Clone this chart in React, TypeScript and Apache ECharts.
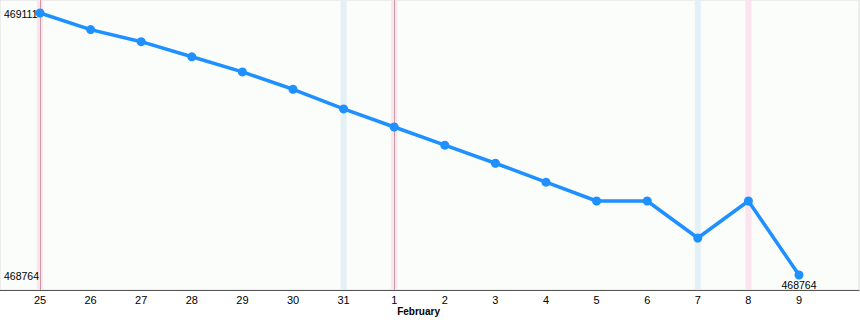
import React, { useEffect, useRef } from "react";
import * as echarts from "echarts";

const dayLabels = ["25", "26", "27", "28", "29", "30", "31", "1", "2", "3", "4", "5", "6", "7", "8", "9"];
const values = [469111, 469089, 469073, 469053, 469033, 469010, 468984, 468960, 468936, 468912, 468887, 468862, 468862, 468813, 468862, 468764];
const saturdays = ["31", "7"];
const sundays = ["25", "1", "8"];
const markerDays = ["25", "1"];
const monthLabel = "February";
const monthStartDay = "1";
const yLabelValues = [468764, 469111];

export default function App() {
  const ref = useRef<HTMLDivElement>(null);
  useEffect(() => {
    if (!ref.current) return;
    const chart = echarts.init(ref.current, null, { renderer: "svg" });
    const idx = (d: string) => dayLabels.indexOf(d);
    const data = values.map((v, i) => [i, v]);
    const minV = Math.min(...values);
    const maxV = Math.max(...values);
    const minIdx = values.indexOf(minV);
    const pxPerUnit = 50.6;
    const xMin = -40 / pxPerUnit;
    const xMax = dayLabels.length - 1 + 60 / pxPerUnit;
    const yPer = (maxV - minV) / 262;
    const yMax = maxV + 13 * yPer;
    const yMin = minV - 15 * yPer;
    const half = 3 / pxPerUnit;
    const font = "Liberation Sans, Arial, sans-serif";
    const band = (d: string, color: string) => [
      { xAxis: idx(d) - half, itemStyle: { color } },
      { xAxis: idx(d) + half },
    ];
    chart.setOption({
      animation: false,
      grid: {
        left: 0,
        right: 1,
        top: 0,
        bottom: 30,
        show: true,
        backgroundColor: "#fbfdfb",
        borderColor: "#dedede",
        borderWidth: 1,
      },
      xAxis: {
        type: "value",
        min: xMin,
        max: xMax,
        splitLine: { show: false },
        axisLine: { show: true, lineStyle: { color: "#555", width: 1 } },
        axisTick: { show: false },
        axisLabel: {
          customValues: dayLabels.map((_, i) => i),
          formatter: (v: number) => dayLabels[Math.round(v)] ?? "",
          color: "#000",
          fontFamily: font,
          fontSize: 11,
          margin: 4,
        },
      },
      yAxis: {
        type: "value",
        min: yMin,
        max: yMax,
        splitLine: { show: false },
        axisLine: { show: false },
        axisTick: { show: false },
        axisLabel: { show: false },
      },
      series: [
        {
          type: "line",
          data,
          z: 5,
          lineStyle: { color: "#1e90ff", width: 3.5 },
          itemStyle: { color: "#1e90ff" },
          symbol: "circle",
          symbolSize: 9,
          label: {
            show: true,
            position: "bottom",
            distance: 0,
            color: "#000",
            fontFamily: font,
            fontSize: 10.5,
            formatter: (p: any) => (p.dataIndex === minIdx ? String(values[minIdx]) : ""),
          },
          markArea: {
            silent: true,
            data: [
              ...saturdays.map((d) => band(d, "#e3f0f5")),
              ...sundays.map((d) => band(d, "#fce4ef")),
            ],
          },
          markLine: {
            silent: true,
            symbol: "none",
            label: { show: false },
            lineStyle: { color: "#c99aa8", width: 1, type: "solid" },
            data: markerDays.map((d) => ({ xAxis: idx(d) })),
          },
        },
      ],
    });
    const p = chart.convertToPixel({ xAxisIndex: 0, yAxisIndex: 0 }, [idx(monthStartDay), minV]);
    const yTexts = yLabelValues.map((v) => {
      const q = chart.convertToPixel({ xAxisIndex: 0, yAxisIndex: 0 }, [0, v]);
      return {
        type: "text",
        x: 4,
        y: q[1] + 1,
        z: 10,
        style: {
          text: String(v),
          fill: "#000",
          font: "10.5px " + font,
          textAlign: "left",
          textVerticalAlign: "middle",
          verticalAlign: "middle",
        },
      };
    });
    chart.setOption({
      graphic: [
        ...yTexts,
        {
          type: "text",
          x: p[0] + 3,
          y: 311,
          style: {
            text: monthLabel,
            fill: "#000",
            font: "bold 10px " + font,
            textVerticalAlign: "middle",
            verticalAlign: "middle",
          },
        },
      ],
    });
    return () => chart.dispose();
  }, []);
  return (
    <div
      ref={ref}
      style={{ width: 860, height: 320, position: "absolute", left: 0, top: 0, background: "#fff" }}
    />
  );
}
